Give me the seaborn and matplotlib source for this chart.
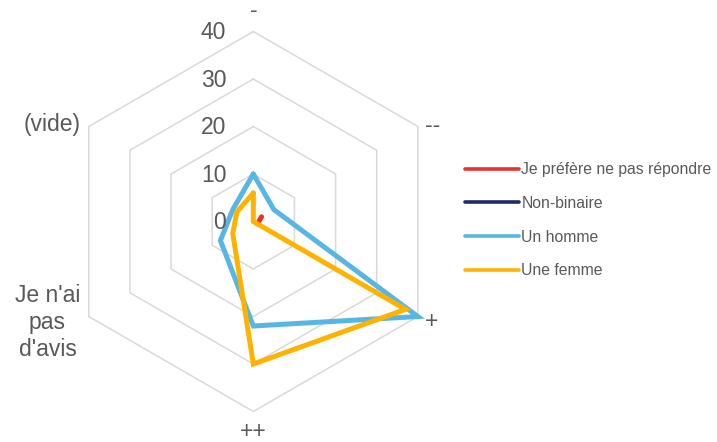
import numpy as np
import pandas as pd
import matplotlib
matplotlib.use("Agg")
import matplotlib.pyplot as plt
from matplotlib.lines import Line2D
import seaborn as sns

# Radar categories, clockwise from the top
categories = ["-", "--", "+", "++", "Je n'ai\npas\nd'avis", "(vide)"]
series_names = ["Je préfère ne pas répondre", "Non-binaire", "Un homme", "Une femme"]
# blank answers are kept as NaN and left out of the polygon
pref_no_answer = [np.nan, 2, 1, np.nan, np.nan, np.nan]
non_binary = [0, 0, 0, 0, 0, 0]
men = [10, 5, 40, 22, 8, 5]
women = [6, 0, 37, 30, 5, 4]
radial_ticks = [0, 10, 20, 30, 40]
colors = ["#E8322E", "#1F2A68", "#58B6E4", "#FFB300"]

TEXT = "#595959"
GRID = "#D9D9D9"

sns.set_theme(style="white")
plt.rcParams["font.family"] = ["Liberation Sans", "DejaVu Sans"]

n = len(categories)
theta = np.linspace(0, 2 * np.pi, n + 1)

rows = []
for name, vals in zip(series_names, [pref_no_answer, non_binary, men, women]):
    closed = list(vals) + [vals[0]]
    for t, v in zip(theta, closed):
        rows.append({"series": name, "theta": t, "value": v})
df = pd.DataFrame(rows).dropna()

fig = plt.figure(figsize=(7.17, 4.42), dpi=100)
ax = fig.add_axes([0.0883, 0.069, 0.530, 0.8597], projection="polar")
ax.set_theta_offset(np.pi / 2)
ax.set_theta_direction(-1)
ax.set_facecolor("none")

# hexagonal rings
for r in radial_ticks[1:]:
    ax.plot(theta, [r] * (n + 1), color=GRID, lw=1.1, zorder=0, clip_on=False)

sns.lineplot(data=df, x="theta", y="value", hue="series", hue_order=series_names,
             palette=colors, sort=False, estimator=None, linewidth=3.6,
             legend=False, ax=ax)
for ln in ax.lines:
    ln.set_clip_on(False)
    ln.set_solid_joinstyle("miter")
    ln.set_solid_capstyle("round")

ax.set_ylim(0, 40)
ax.grid(False)
ax.spines["polar"].set_visible(False)
ax.set_xticks([])
ax.set_yticks([])
ax.set_xlabel("")
ax.set_ylabel("")

fs = 16.5
# category labels
offsets = [(0, 21), (15, 1.5), (14, -4.5), (0, -19.5), (-41.3, -5.8), (-37.1, 2.2)]
for t, lab, (dx, dy) in zip(theta[:-1], categories, offsets):
    ax.annotate(lab, xy=(t, 40), xytext=(dx, dy), textcoords="offset pixels",
                ha="center", va="center", multialignment="center", fontsize=fs,
                color=TEXT, linespacing=1.22, annotation_clip=False)

# radial scale labels
for r in radial_ticks:
    ax.annotate(str(r), xy=(0, r), xytext=(-27, -1), textcoords="offset pixels",
                ha="right", va="center", fontsize=fs, color=TEXT,
                annotation_clip=False)

handles = [Line2D([0], [0], color=c, lw=2.6, solid_capstyle="round") for c in colors]
leg = fig.legend(handles, series_names, loc="center left",
                 bbox_to_anchor=(0.6485, 0.5018), frameon=False, fontsize=11.3,
                 handlelength=3.45, handletextpad=0.15, labelspacing=1.19,
                 borderaxespad=0, borderpad=0)
for txt in leg.get_texts():
    txt.set_color(TEXT)

fig.savefig("out.png", dpi=100)
